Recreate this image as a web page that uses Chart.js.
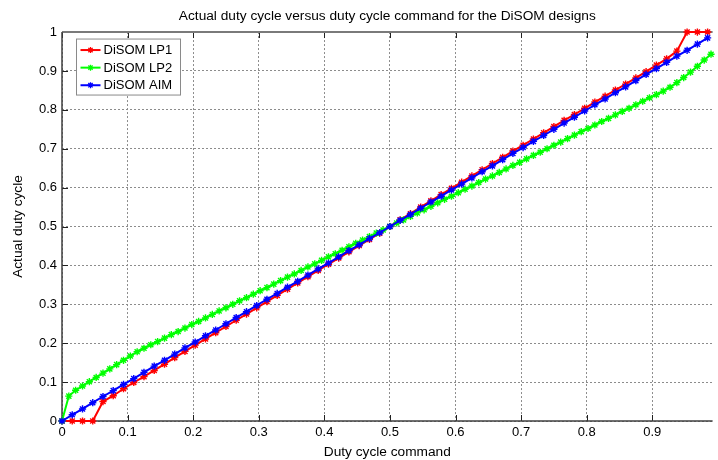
<!DOCTYPE html>
<html>
<head>
<meta charset="utf-8">
<script src="https://cdn.jsdelivr.net/npm/chart.js@4.4.1/dist/chart.umd.min.js"></script>
<style>
  html, body { margin: 0; padding: 0; background: #fff; }
  #wrap { width: 718px; height: 460px; }
</style>
</head>
<body>
<div id="wrap"><canvas id="dutyChart" width="718" height="460"></canvas></div>
<script>
// Duty cycle. LP1 and AIM share the coarse command grid,
// LP2 was sampled on a finer grid.
const cmdCoarse = [0, .0156, .0313, .0469, .0625, .0781, .0938, .1094, .125, .1406, .1563, .1719, .1875, .2031, .2188, .2344,
  .25, .2656, .2813, .2969, .3125, .3281, .3438, .3594, .375, .3906, .4063, .4219, .4375, .4531, .4688, .4844,
  .5, .5156, .5313, .5469, .5625, .5781, .5938, .6094, .625, .6406, .6563, .6719, .6875, .7031, .7188, .7344,
  .75, .7656, .7813, .7969, .8125, .8281, .8438, .8594, .875, .8906, .9063, .9219, .9375, .9531, .9688, .9844];

const cmdFine = [0, .0104, .0208, .0313, .0417, .0521, .0625, .0729, .0833, .0938, .1042, .1146, .125, .1354, .1458, .1563,
  .1667, .1771, .1875, .1979, .2083, .2188, .2292, .2396, .25, .2604, .2708, .2813, .2917, .3021, .3125, .3229,
  .3333, .3438, .3542, .3646, .375, .3854, .3958, .4063, .4167, .4271, .4375, .4479, .4583, .4688, .4792, .4896,
  .5, .5104, .5208, .5313, .5417, .5521, .5625, .5729, .5833, .5938, .6042, .6146, .625, .6354, .6458, .6563,
  .6667, .6771, .6875, .6979, .7083, .7188, .7292, .7396, .75, .7604, .7708, .7813, .7917, .8021, .8125, .8229,
  .8333, .8438, .8542, .8646, .875, .8854, .8958, .9063, .9167, .9271, .9375, .9479, .9583, .9688, .9792, .9896];

const lp1Duty = [0, 0, 0, 0, 0.050, 0.065, 0.083, 0.099, 0.114, 0.130, 0.146, 0.163, 0.179, 0.195, 0.211, 0.227,
  0.243, 0.259, 0.275, 0.291, 0.307, 0.323, 0.339, 0.355, 0.371, 0.387, 0.403, 0.419, 0.435, 0.451, 0.467, 0.483,
  0.500, 0.517, 0.533, 0.550, 0.566, 0.582, 0.598, 0.614, 0.630, 0.646, 0.662, 0.678, 0.694, 0.709, 0.725, 0.741,
  0.757, 0.773, 0.788, 0.804, 0.820, 0.835, 0.851, 0.866, 0.882, 0.898, 0.915, 0.931, 0.951, 1.000, 1.000, 1.000];

const lp2Duty = [0, 0.064, 0.079, 0.090, 0.101, 0.112, 0.123, 0.134, 0.145, 0.156, 0.167, 0.178, 0.187, 0.196, 0.204, 0.213,
  0.222, 0.230, 0.239, 0.248, 0.256, 0.265, 0.274, 0.283, 0.291, 0.300, 0.309, 0.317, 0.326, 0.335, 0.343, 0.352,
  0.361, 0.370, 0.378, 0.387, 0.396, 0.404, 0.413, 0.422, 0.430, 0.439, 0.448, 0.457, 0.465, 0.474, 0.483, 0.491,
  0.500, 0.509, 0.517, 0.526, 0.535, 0.543, 0.552, 0.561, 0.570, 0.578, 0.587, 0.596, 0.604, 0.613, 0.622, 0.630,
  0.639, 0.648, 0.657, 0.665, 0.674, 0.683, 0.691, 0.700, 0.709, 0.717, 0.726, 0.735, 0.744, 0.752, 0.761, 0.770,
  0.778, 0.787, 0.796, 0.804, 0.813, 0.822, 0.831, 0.839, 0.848, 0.858, 0.870, 0.883, 0.897, 0.912, 0.928, 0.943];

const aimDuty = [0, 0.016, 0.031, 0.047, 0.063, 0.078, 0.094, 0.109, 0.125, 0.141, 0.156, 0.172, 0.188, 0.203, 0.219, 0.234,
  0.250, 0.266, 0.281, 0.297, 0.313, 0.328, 0.344, 0.359, 0.375, 0.391, 0.406, 0.422, 0.438, 0.453, 0.469, 0.484,
  0.500, 0.516, 0.531, 0.547, 0.563, 0.578, 0.594, 0.609, 0.625, 0.641, 0.656, 0.672, 0.688, 0.703, 0.719, 0.734,
  0.750, 0.766, 0.781, 0.797, 0.813, 0.828, 0.844, 0.859, 0.875, 0.891, 0.906, 0.922, 0.938, 0.953, 0.969, 0.985];

const seriesNames = ['DiSOM LP1', 'DiSOM LP2', 'DiSOM AIM'];
const seriesColors = ['#ff0000', '#00ff00', '#0000ff'];
const chartTitle = 'Actual duty cycle versus duty cycle command for the DiSOM designs';
const xTitle = 'Duty cycle command';
const yTitle = 'Actual duty cycle';

const FONT = 'Liberation Sans, Arial, Helvetica, sans-serif';
const TITLE_SIZE = 13.7;
const TICK_SIZE = 13;
const pts = (xs, ys) => xs.map((x, i) => ({ x, y: ys[i] }));
const fmtTick = v => String(+v.toFixed(1));

// MATLAB-ish star marker ('*')
function drawStar(ctx, x, y, r) {
  ctx.beginPath();
  ctx.moveTo(x - r, y); ctx.lineTo(x + r, y);
  ctx.moveTo(x, y - r); ctx.lineTo(x, y + r);
  const d = r * 0.72;
  ctx.moveTo(x - d, y - d); ctx.lineTo(x + d, y + d);
  ctx.moveTo(x - d, y + d); ctx.lineTo(x + d, y - d);
  ctx.stroke();
}

// axes box + inward tick marks, drawn under the curves
const boxPlugin = {
  id: 'matlabBox',
  beforeDatasetsDraw(chart) {
    const { ctx, chartArea: { left, right, top, bottom }, scales: { x, y } } = chart;
    ctx.save();
    ctx.strokeStyle = '#202020';
    ctx.lineWidth = 1;
    ctx.beginPath();
    x.ticks.forEach(t => {
      const px = Math.round(x.getPixelForValue(t.value)) + 0.5;
      ctx.moveTo(px, bottom); ctx.lineTo(px, bottom - 6);
      ctx.moveTo(px, top); ctx.lineTo(px, top + 6);
    });
    y.ticks.forEach(t => {
      const py = Math.round(y.getPixelForValue(t.value)) + 0.5;
      ctx.moveTo(left, py); ctx.lineTo(left + 6, py);
    });
    ctx.stroke();
    ctx.strokeStyle = '#7a7a7a';
    ctx.lineWidth = 2;
    ctx.beginPath();
    ctx.moveTo(left, top); ctx.lineTo(right, top);
    ctx.stroke();
    ctx.strokeStyle = '#404040';
    ctx.lineWidth = 1.5;
    ctx.beginPath();
    ctx.moveTo(left, top); ctx.lineTo(left, bottom); ctx.lineTo(right, bottom);
    ctx.stroke();
    ctx.restore();
  }
};

// legend box in the upper-left corner of the axes
const legendPlugin = {
  id: 'cornerLegend',
  afterDatasetsDraw(chart) {
    const { ctx, chartArea: { left, top } } = chart;
    const bx = left + 14.5, by = top + 7;
    ctx.save();
    ctx.fillStyle = '#fff';
    ctx.strokeStyle = '#8a8a8a';
    ctx.lineWidth = 1;
    ctx.fillRect(bx, by, 104, 56);
    ctx.strokeRect(bx, by, 104, 56);
    ctx.font = '13px ' + FONT;
    ctx.textBaseline = 'middle';
    seriesNames.forEach((name, i) => {
      const cy = by + 11 + i * 17.6;
      ctx.strokeStyle = seriesColors[i];
      ctx.lineWidth = 2;
      ctx.beginPath();
      ctx.moveTo(bx + 4, cy); ctx.lineTo(bx + 24, cy);
      ctx.stroke();
      ctx.lineWidth = 1.3;
      drawStar(ctx, bx + 14, cy, 3);
      ctx.fillStyle = '#000';
      ctx.fillText(name, bx + 27, cy + 0.5);
    });
    ctx.restore();
  }
};

const mkSet = (i, data, order) => ({
  label: seriesNames[i],
  data,
  showLine: true,
  borderColor: seriesColors[i],
  backgroundColor: seriesColors[i],
  borderWidth: 2,
  pointStyle: 'star',
  pointRadius: 3.6,
  pointBorderWidth: 1.4,
  pointBorderColor: seriesColors[i],
  tension: 0,
  clip: false,
  order
});

new Chart(document.getElementById('dutyChart'), {
  type: 'scatter',
  data: {
    datasets: [
      mkSet(0, pts(cmdCoarse, lp1Duty), 3),
      mkSet(1, pts(cmdFine, lp2Duty), 2),
      mkSet(2, pts(cmdCoarse, aimDuty), 1)
    ]
  },
  options: {
    responsive: false,
    animation: false,
    devicePixelRatio: 1,
    layout: { padding: 0 },
    plugins: {
      legend: { display: false },
      tooltip: { enabled: false },
      title: {
        display: true, text: chartTitle, fullSize: false, color: '#000',
        font: { family: FONT, size: TITLE_SIZE, weight: 'normal' },
        padding: { top: 8, bottom: 7.6 }
      }
    },
    scales: {
      x: {
        type: 'linear', min: 0, max: 0.992,
        ticks: { stepSize: 0.1, includeBounds: false, callback: fmtTick, color: '#000', padding: 4,
                 maxRotation: 0, autoSkip: false, font: { family: FONT, size: TICK_SIZE } },
        grid: { color: '#8c8c8c', lineWidth: 1, drawTicks: false },
        border: { display: false, dash: [2, 2] },
        title: { display: true, text: xTitle, color: '#000', font: { family: FONT, size: TITLE_SIZE },
                 padding: { top: 0, bottom: 0 } },
        afterFit: s => { s.height = 39; }
      },
      y: {
        type: 'linear', min: 0, max: 1,
        ticks: { stepSize: 0.1, callback: fmtTick, color: '#000', padding: 5,
                 font: { family: FONT, size: TICK_SIZE } },
        grid: { color: '#8c8c8c', lineWidth: 1, drawTicks: false },
        border: { display: false, dash: [2, 2] },
        title: { display: true, text: yTitle, color: '#000', font: { family: FONT, size: TITLE_SIZE },
                 padding: { top: 10, bottom: 0 } },
        afterFit: s => { s.width = 62; }
      }
    }
  },
  plugins: [boxPlugin, legendPlugin]
});
</script>
</body>
</html>
